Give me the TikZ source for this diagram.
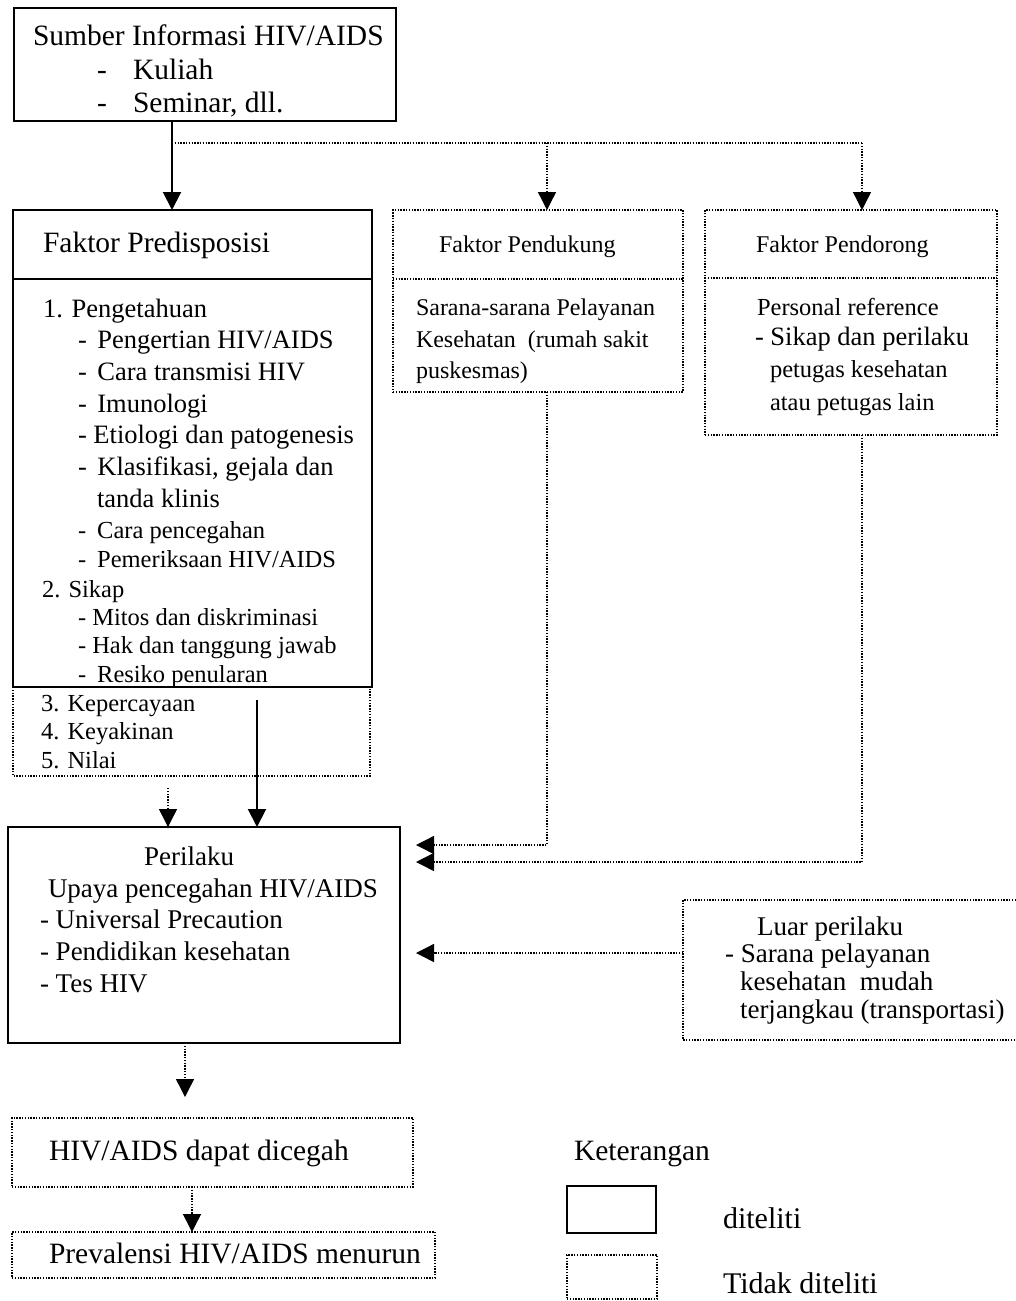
\documentclass[tikz,border=0pt]{standalone}
\usepackage{fontspec}
\setmainfont{Liberation Serif}
\usetikzlibrary{arrows.meta,calc}
\newcommand\myfs[1]{\fontsize{#1}{#1}\selectfont}
\begin{document}
\begin{tikzpicture}[x=1pt,y=-1pt,
  solidln/.style={line width=2pt},
  dotln/.style={line width=1.4pt, dash pattern=on 1.4pt off 1.4pt},
  box/.style={rectangle, inner sep=0pt, outer sep=0pt, anchor=north west},
  tip/.style={-{Triangle[width=18pt,length=18pt]}},
  txt/.style={anchor=base west, inner sep=0pt, outer sep=0pt}]
\useasboundingbox (0,0) rectangle (1016,1301);
\fill[white] (0,0) rectangle (1016,1301);

% ---------- boxes ----------
\node[box, draw, solidln, minimum width=382pt, minimum height=113pt] (top) at (14,8) {};
\node[box, minimum width=357pt, minimum height=89pt] (predx) at (13,687) {};
\draw[dotln] (predx.north west) -- (predx.south west) -- (predx.south east) -- (predx.north east);
\node[box, draw, solidln, minimum width=359pt, minimum height=477pt] (pred) at (13,210) {};
\draw[solidln] (pred.west |- 0,279) -- (pred.east |- 0,279);

\node[box, draw, dotln, minimum width=290pt, minimum height=182pt] (pend) at (393,210) {};
\draw[dotln] (pend.west |- 0,279) -- (pend.east |- 0,279);
\node[box, draw, dotln, minimum width=292pt, minimum height=225pt] (pdor) at (705,210) {};
\draw[dotln] (pdor.west |- 0,278) -- (pdor.east |- 0,278);

\node[box, draw, solidln, minimum width=392pt, minimum height=216pt] (peri) at (8,827) {};
\node[box, minimum width=333pt, minimum height=140pt] (luar) at (683,900) {};
\draw[dotln] (luar.north east) -- (luar.north west) -- (luar.south west) -- (luar.south east);

\node[box, draw, dotln, minimum width=401pt, minimum height=69pt] (cegah) at (12,1118) {};
\node[box, draw, dotln, minimum width=423pt, minimum height=46pt] (prev) at (12,1232) {};

\node[box, draw, solidln, minimum width=89pt, minimum height=47pt] (lsolid) at (567,1186) {};
\node[box, draw, dotln, minimum width=90pt, minimum height=44pt] (ldot) at (567,1255) {};

% ---------- connectors ----------
\coordinate (fork) at (172,143);
\coordinate (in1) at (416,845);
\coordinate (in2) at (416,862);
\coordinate (in3) at (416,953);
\coordinate (src6) at (168,788);
\coordinate (src7) at (257,700);
\coordinate (end8) at (185,1097);

\draw[solidln,tip] (fork |- top.south) -- (fork |- pred.north);
\draw[dotln] (fork) -- (862,143);
\draw[dotln,tip] (547,143) -- (547,0 |- pend.north);
\draw[dotln,tip] (862,143) -- (862,0 |- pdor.north);
\draw[dotln,tip] (547,0 |- pend.south) |- (in1);
\draw[dotln,tip] (862,0 |- pdor.south) |- (in2);
\draw[dotln,tip] (luar.west |- in3) -- (in3);
\draw[dotln,tip] (src6) -- (src6 |- peri.north);
\draw[solidln,tip] (src7) -- (src7 |- peri.north);
\draw[dotln,tip] (end8 |- peri.south) -- (end8);
\draw[dotln,tip] (192,0 |- cegah.south) -- (192,0 |- prev.north);

% ---------- texts ----------
\begin{scope}[font=\myfs{29.5}]
\node[txt] (t1) at (33,45) {Sumber Informasi HIV/AIDS};
\node[txt] (t2a) at (97,79) {-};
\node[txt] (t2) at (133,79) {Kuliah};
\node[txt] (t3a) at (97,112) {-};
\node[txt] (t3) at (133,112) {Seminar, dll.};
\node[txt] (fp) at (43,252) {Faktor Predisposisi};
\node[txt] (cg) at (49,1160) {HIV/AIDS dapat dicegah};
\node[txt] (pv) at (49,1263) {Prevalensi HIV/AIDS menurun};
\node[txt] (ket) at (574,1160) {Keterangan};
\end{scope}
\begin{scope}[font=\myfs{30}]
\node[txt] (dt) at (723,1228) {diteliti};
\node[txt] (tdt) at (723,1293) {Tidak diteliti};
\end{scope}

\begin{scope}[font=\myfs{26.5}]
\node[txt] (p1) at (43,317) {1. Pengetahuan};
\node[txt] (p2) at (78,348) {-\hspace{0.4em}Pengertian HIV/AIDS};
\node[txt] (p3) at (78,380) {-\hspace{0.4em}Cara transmisi HIV};
\node[txt] (p4) at (78,412) {-\hspace{0.4em}Imunologi};
\node[txt] (p5) at (78,443) {- Etiologi dan patogenesis};
\node[txt] (p6) at (78,475) {-\hspace{0.4em}Klasifikasi, gejala dan};
\node[txt] (p7) at (97,507) {tanda klinis};
\end{scope}
\begin{scope}[font=\myfs{24.5}]
\node[txt] (p8) at (78,538) {-\hspace{0.45em}Cara pencegahan};
\node[txt] (p9) at (78,567) {-\hspace{0.45em}Pemeriksaan HIV/AIDS};
\node[txt] (p10) at (42,597) {2. Sikap};
\node[txt] (p11) at (78,625) {- Mitos dan diskriminasi};
\node[txt] (p12) at (78,653) {- Hak dan tanggung jawab};
\node[txt] (p13) at (78,682) {-\hspace{0.45em}Resiko penularan};
\node[txt] (p14) at (41,711) {3. Kepercayaan};
\node[txt] (p15) at (41,739) {4. Keyakinan};
\node[txt] (p16) at (41,768) {5. Nilai};
\end{scope}

\begin{scope}[font=\myfs{24}]
\node[txt] (s0) at (439,252) {Faktor Pendukung};
\node[txt] (s1) at (416,315) {Sarana-sarana Pelayanan};
\node[txt] (s2) at (416,347) {Kesehatan\ \ (rumah sakit};
\node[txt] (s3) at (416,378) {puskesmas)};
\node[txt] (d0) at (756,252) {Faktor Pendorong};
\end{scope}
\begin{scope}[font=\myfs{24.5}]
\node[txt] (d1) at (757,315) {Personal reference};
\node[txt, font=\myfs{26.5}] (d2) at (755,345) {- Sikap dan perilaku};
\node[txt] (d3) at (770,377) {petugas kesehatan};
\node[txt] (d4) at (770,410) {atau petugas lain};
\end{scope}

\begin{scope}[font=\myfs{27}]
\node[anchor=base, inner sep=0pt] (r0) at (189,865) {Perilaku};
\node[txt] (r1) at (48,897) {Upaya pencegahan HIV/AIDS};
\node[txt] (r2) at (40,928) {- Universal Precaution};
\node[txt] (r3) at (40,960) {- Pendidikan kesehatan};
\node[txt] (r4) at (40,992) {- Tes HIV};
\node[txt] (l0) at (757,935) {Luar perilaku};
\node[txt] (l1) at (725,962) {- Sarana pelayanan};
\node[txt] (l2) at (740,990) {kesehatan\ \ mudah};
\node[txt] (l3) at (740,1018) {terjangkau (transportasi)};
\end{scope}
\end{tikzpicture}
\end{document}
